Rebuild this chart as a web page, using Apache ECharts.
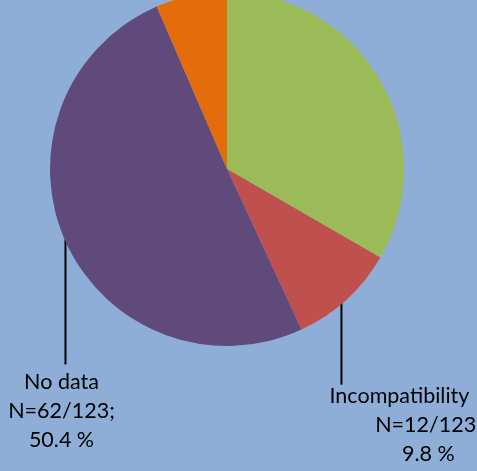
<!DOCTYPE html>
<html>
<head>
<meta charset="utf-8">
<script src="https://cdn.jsdelivr.net/npm/echarts@6/dist/echarts.min.js"></script>
<style>
html,body{margin:0;padding:0;background:#8EAED7;}
#chart{width:477px;height:471px;}
</style>
</head>
<body>
<div id="chart"></div>
<script>
// Data
var categories = ['Compatibility', 'Incompatibility', 'No data', 'Other'];
var counts = [41, 12, 62, 8];
var total = 123;
var colors = ['#9BBB59', '#C0504D', '#604A7B', '#E46C0A'];
var showLabel = [false, true, true, false];

// layout for visible labels (offsets relative to leader line start)
var labelLayoutCfg = {
  1: { lineDx: -5, lineLen: 85, dx: 58, shift: 58, gap: -3 },
  2: { lineDx: 0, lineLen: 123, dx: -4, shift: 0, gap: 3 }
};

var chart = echarts.init(document.getElementById('chart'));
var FONT = 'Lato';

var data = categories.map(function (c, i) {
  var pct = (counts[i] / total * 100).toFixed(1);
  var cfg = labelLayoutCfg[i] || { shift: 0 };
  return {
    name: c,
    value: counts[i],
    itemStyle: { color: colors[i] },
    label: {
      show: showLabel[i],
      formatter: '{a|' + c + '}\n{b|N=' + counts[i] + '/' + total + ';}\n{b|' + pct + ' %}',
      rich: {
        a: { fontFamily: FONT, fontSize: 21.5, color: '#000', lineHeight: 29 },
        b: { fontFamily: FONT, fontSize: 21.5, color: '#000', lineHeight: 29, padding: [0, 0, 0, cfg.shift] }
      }
    },
    labelLine: { show: showLabel[i] }
  };
});

chart.setOption({
  backgroundColor: '#8EAED7',
  animation: false,
  series: [{
    type: 'pie',
    center: [227, 169],
    radius: 177,
    startAngle: 90,
    clockwise: true,
    avoidLabelOverlap: false,
    label: { position: 'outside', align: 'center' },
    labelLine: { lineStyle: { color: '#000', width: 2 } },
    itemStyle: { borderWidth: 0 },
    emphasis: { disabled: true },
    data: data,
    labelLayout: function (params) {
      var cfg = labelLayoutCfg[params.dataIndex];
      if (!cfg || !params.labelLinePoints) return {};
      var p0 = params.labelLinePoints[0];
      var lx = p0[0] + cfg.lineDx;
      var endY = p0[1] + cfg.lineLen;
      return {
        x: lx + cfg.dx,
        y: endY + cfg.gap,
        align: 'center',
        verticalAlign: 'top',
        labelLinePoints: [[lx, p0[1] - 2], [lx, endY], [lx, endY]]
      };
    }
  }]
});
</script>
</body>
</html>
